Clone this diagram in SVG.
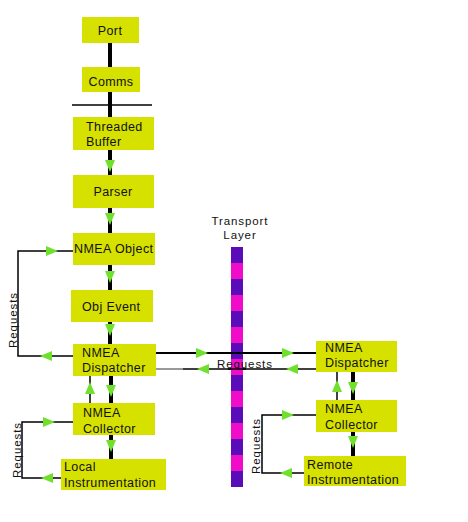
<svg xmlns="http://www.w3.org/2000/svg" width="468" height="522" viewBox="0 0 468 522">
<style>
.box{fill:#d6e100}
.t{font-family:"Liberation Sans",Arial,sans-serif;font-size:12.5px;fill:#111;letter-spacing:0.4px}
.s{font-family:"Liberation Sans",Arial,sans-serif;font-size:11.5px;fill:#111;letter-spacing:0.9px}
.ln{stroke:#000;fill:none;stroke-width:1.5}
.thk{stroke:#000;fill:none;stroke-width:4}
.pu{fill:#5a0cb8}
.pk{fill:#f00cc8}
</style>
<defs>
<path id="ar" d="M-5,-6 L5,-6 L0,6 Z" fill="#6fe02c"/>
</defs>
<rect width="468" height="522" fill="#fff"/>
<g id="connectors">
<line class="thk" x1="110" y1="43" x2="110" y2="376"/>
<line class="thk" x1="111" y1="376" x2="111" y2="459"/>
<line class="ln" x1="72" y1="105" x2="152" y2="105"/>
<line class="ln" x1="90" y1="376" x2="90" y2="403"/>
<polyline class="ln" points="73,251 18,251 18,356 73,356"/>
<polyline class="ln" points="73,422 22,422 22,478 61,478"/>
<polyline class="ln" points="316,415 262,415 262,473 304,473"/>
<line stroke="#000" stroke-width="2" x1="156" y1="353" x2="316" y2="353"/>
<line stroke="#999" stroke-width="2" x1="156" y1="369" x2="183" y2="369"/>
<line stroke="#000" stroke-width="1.5" x1="183" y1="369" x2="316" y2="369"/>
<line class="ln" x1="337" y1="372" x2="337" y2="400"/>
<line class="thk" x1="353" y1="372" x2="353" y2="456"/>
<use href="#ar" transform="translate(110,166)"/>
<use href="#ar" transform="translate(110,219)"/>
<use href="#ar" transform="translate(110,277)"/>
<use href="#ar" transform="translate(110,330)"/>
<use href="#ar" transform="translate(111,391)"/>
<use href="#ar" transform="translate(90,388) rotate(180)"/>
<use href="#ar" transform="translate(111,446)"/>
<use href="#ar" transform="translate(353,388)"/>
<use href="#ar" transform="translate(337,386) rotate(180)"/>
<use href="#ar" transform="translate(353,442)"/>
<use href="#ar" transform="translate(52,251) rotate(-90)"/>
<use href="#ar" transform="translate(46,356) rotate(90)"/>
<use href="#ar" transform="translate(49,422) rotate(-90)"/>
<use href="#ar" transform="translate(47,478) rotate(90)"/>
<use href="#ar" transform="translate(288,415) rotate(-90)"/>
<use href="#ar" transform="translate(286,473) rotate(90)"/>
<use href="#ar" transform="translate(202,353) rotate(-90)"/>
<use href="#ar" transform="translate(288,353) rotate(-90)"/>
<use href="#ar" transform="translate(203,369) rotate(90)"/>
<use href="#ar" transform="translate(292,369) rotate(90)"/>
<text class="s" transform="translate(17,320) rotate(-90)" text-anchor="middle">Requests</text>
<text class="s" transform="translate(21,450) rotate(-90)" text-anchor="middle">Requests</text>
<text class="s" transform="translate(260,446) rotate(-90)" text-anchor="middle">Requests</text>
</g>
<g id="transport">
<rect class="pu" x="231" y="247" width="12" height="16"/>
<rect class="pk" x="231" y="263" width="12" height="16"/>
<rect class="pu" x="231" y="279" width="12" height="16"/>
<rect class="pk" x="231" y="295" width="12" height="16"/>
<rect class="pu" x="231" y="311" width="12" height="16"/>
<rect class="pk" x="231" y="327" width="12" height="16"/>
<rect class="pu" x="231" y="343" width="12" height="16"/>
<rect class="pk" x="231" y="359" width="12" height="16"/>
<rect class="pu" x="231" y="375" width="12" height="16"/>
<rect class="pk" x="231" y="391" width="12" height="16"/>
<rect class="pu" x="231" y="407" width="12" height="16"/>
<rect class="pk" x="231" y="423" width="12" height="16"/>
<rect class="pu" x="231" y="439" width="12" height="16"/>
<rect class="pk" x="231" y="455" width="12" height="16"/>
<rect class="pu" x="231" y="471" width="12" height="16"/>
<text class="s" x="240" y="225" text-anchor="middle">Transport</text>
<text class="s" x="240" y="239" text-anchor="middle">Layer</text>
</g>
<line stroke="#000" stroke-width="2" x1="228" y1="353" x2="246" y2="353"/>
<line stroke="#000" stroke-width="1.5" x1="228" y1="369" x2="246" y2="369"/>
<text class="s" x="217" y="368">Requests</text>
<g id="port"><rect class="box" x="82" y="17" width="57" height="26"/><text class="t" x="110" y="35" text-anchor="middle">Port</text></g>
<g id="comms"><rect class="box" x="82" y="67" width="58" height="25"/><text class="t" x="111" y="86" text-anchor="middle">Comms</text></g>
<g id="threaded-buffer"><rect class="box" x="73" y="117" width="81" height="33"/><text class="t" x="86" y="131">Threaded</text><text class="t" x="86" y="146">Buffer</text></g>
<g id="parser"><rect class="box" x="73" y="175" width="81" height="33"/><text class="t" x="113" y="196" text-anchor="middle">Parser</text></g>
<g id="nmea-object"><rect class="box" x="73" y="233" width="82" height="32"/><text class="t" x="74" y="253">NMEA Object</text></g>
<g id="obj-event"><rect class="box" x="71" y="290" width="82" height="32"/><text class="t" x="82" y="311">Obj Event</text></g>
<g id="nmea-dispatcher-local"><rect class="box" x="73" y="344" width="83" height="32"/><text class="t" x="82" y="357">NMEA</text><text class="t" x="82" y="372">Dispatcher</text></g>
<g id="nmea-collector-local"><rect class="box" x="73" y="403" width="82" height="32"/><text class="t" x="83" y="417">NMEA</text><text class="t" x="83" y="433">Collector</text></g>
<g id="local-instrumentation"><rect class="box" x="61" y="459" width="105" height="31"/><text class="t" x="64" y="471">Local</text><text class="t" x="64" y="487">Instrumentation</text></g>
<g id="nmea-dispatcher-remote"><rect class="box" x="316" y="341" width="81" height="31"/><text class="t" x="325" y="352">NMEA</text><text class="t" x="325" y="367">Dispatcher</text></g>
<g id="nmea-collector-remote"><rect class="box" x="316" y="400" width="81" height="32"/><text class="t" x="325" y="413">NMEA</text><text class="t" x="325" y="429">Collector</text></g>
<g id="remote-instrumentation"><rect class="box" x="304" y="456" width="102" height="30"/><text class="t" x="307" y="469">Remote</text><text class="t" x="307" y="484">Instrumentation</text></g>
</svg>
